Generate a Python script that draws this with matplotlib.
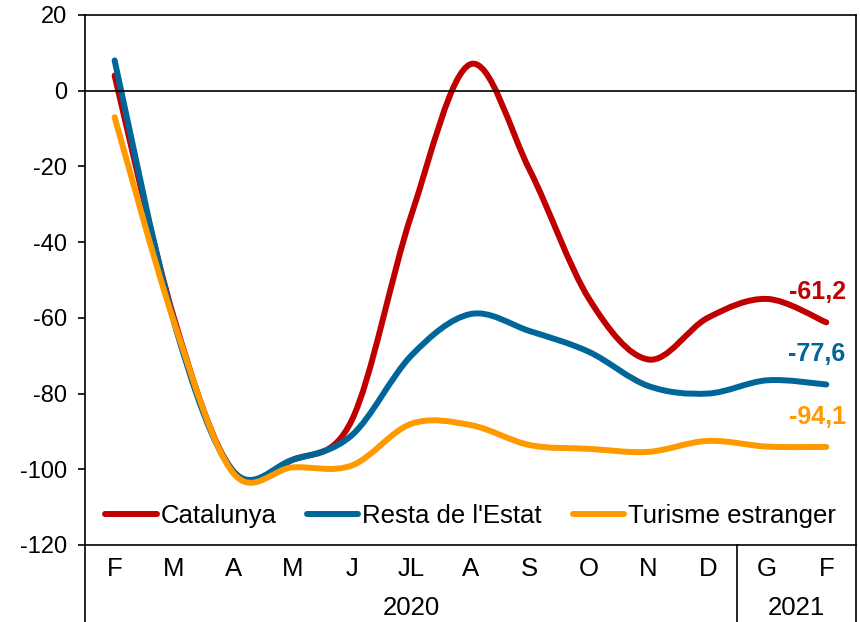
import matplotlib.pyplot as plt
from matplotlib.path import Path
from matplotlib.patches import PathPatch
from matplotlib.lines import Line2D

plt.rcParams['font.family'] = ['Liberation Sans', 'DejaVu Sans']
plt.rcParams['axes.unicode_minus'] = False

mesos = ['F', 'M', 'A', 'M', 'J', 'JL', 'A', 'S', 'O', 'N', 'D', 'G', 'F']
anys = ['2020', '2021']
catalunya = [4, -60, -100.5, -97.5, -87, -33, 7, -21, -55, -71, -60, -55, -61.2]
resta = [8, -61, -100.5, -97.5, -91, -70, -59, -63.5, -69, -78, -80, -76.5, -77.6]
estranger = [-7, -61, -101, -99.5, -99, -88, -88.3, -93.6, -94.6, -95.4, -92.5, -94, -94.1]
noms = ['Catalunya', "Resta de l'Estat", 'Turisme estranger']
colors = ['#C00000', '#006699', '#FF9900']
etiquetes = ['-61,2', '-77,6', '-94,1']


def corba(xs, ys):
    # bezier suau tipus Excel
    pts = list(zip(xs, ys))
    n = len(pts)
    verts = [pts[0]]
    codes = [Path.MOVETO]
    for i in range(n - 1):
        p0 = pts[i - 1] if i > 0 else pts[i]
        p1 = pts[i]
        p2 = pts[i + 1]
        p3 = pts[i + 2] if i + 2 < n else pts[i + 1]
        c1 = (p1[0] + (p2[0] - p0[0]) / 6, p1[1] + (p2[1] - p0[1]) / 6)
        c2 = (p2[0] - (p3[0] - p1[0]) / 6, p2[1] - (p3[1] - p1[1]) / 6)
        verts += [c1, c2, p2]
        codes += [Path.CURVE4] * 3
    return Path(verts, codes)


fig = plt.figure(figsize=(8.6, 6.22), dpi=100)
ax = fig.add_axes([0.0988, 0.1238, 0.8965, 0.8521])

xs = [i + 0.5 for i in range(len(mesos))]
ax.axhline(0, color='black', lw=1.2)
for serie, nom, c in zip([catalunya, resta, estranger], noms, colors):
    ax.add_patch(PathPatch(corba(xs, serie), facecolor='none', edgecolor=c,
                           lw=4.3, capstyle='round', joinstyle='round'))
    ax.plot([], [], color=c, lw=4.3, solid_capstyle='round', label=nom)

for serie, et, c in zip([catalunya, resta, estranger], etiquetes, colors):
    ax.annotate(et, (xs[-1], serie[-1]), xytext=(14, 13), textcoords='offset points',
                ha='right', va='bottom', color=c, fontsize=18, fontweight='bold')

ax.set_xlim(0, 13)
ax.set_ylim(-120, 20)
ax.set_yticks(range(-120, 21, 20))
ax.tick_params(axis='y', labelsize=17, length=5, width=1.2, direction='out', pad=8)
ax.set_xticks(xs)
ax.set_xticklabels(mesos, fontsize=18.5)
ax.tick_params(axis='x', length=0, pad=9)
for s in ax.spines.values():
    s.set_linewidth(1.2)

# separadors de la taula de l'eix x
tr = ax.get_xaxis_transform()
for x in [0, 11, 13]:
    ax.add_line(Line2D([x, x], [0, -0.15], transform=tr, color='black',
                       lw=1.2, clip_on=False))
ax.text(5.5, -0.118, anys[0], transform=tr, ha='center', va='center', fontsize=18.5)
ax.text(12, -0.118, anys[1], transform=tr, ha='center', va='center', fontsize=18.5)

ax.legend(loc='center', bbox_to_anchor=(0.5, 0.055), ncol=3, frameon=False,
          fontsize=18.5, handlelength=2.0, handletextpad=0.15, columnspacing=1.2,
          borderaxespad=0)

fig.savefig('out.png', dpi=100)
